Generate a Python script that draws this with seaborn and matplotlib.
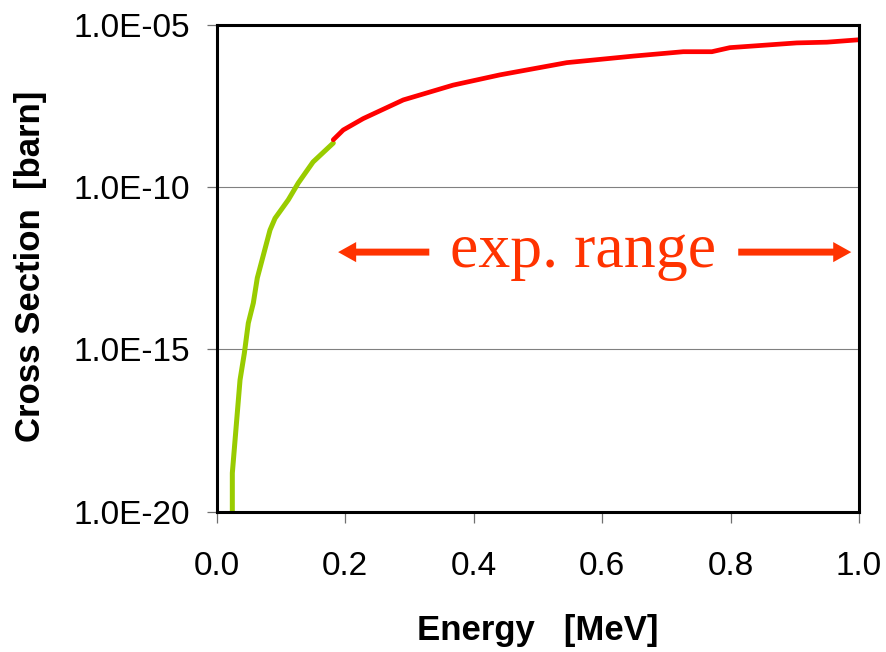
import numpy as np
import pandas as pd
import matplotlib
matplotlib.use("Agg")
import matplotlib.pyplot as plt
from matplotlib.ticker import FixedLocator, FuncFormatter, NullLocator
import seaborn as sns

# Calculated cross section, below the measured energy window (MeV, barn)
energy_low = [0.0243, 0.0243, 0.0363, 0.043, 0.0492, 0.0570, 0.0632, 0.0830,
              0.0908, 0.1115, 0.127, 0.150, 0.1815]
sigma_low = [1.0e-20, 1.55e-19, 1.15e-16, 7.6e-16, 6.5e-15, 2.7e-14, 1.6e-13,
             4.8e-12, 1.1e-11, 4.1e-11, 1.35e-10, 6.0e-10, 2.3e-09]

# Cross section across the experimentally accessible range
energy_high = [0.1815, 0.197, 0.228, 0.2905, 0.368, 0.441, 0.545, 0.649,
               0.7265, 0.771, 0.799, 0.903, 0.950, 1.0]
sigma_high = [2.9e-09, 5.8e-09, 1.3e-08, 4.9e-08, 1.4e-07, 2.9e-07, 6.9e-07,
              1.1e-06, 1.5e-06, 1.5e-06, 2.0e-06, 2.8e-06, 2.95e-06, 3.5e-06]

x_ticks = [0.0, 0.2, 0.4, 0.6, 0.8, 1.0]
y_ticks = [1e-20, 1e-15, 1e-10, 1e-5]

# Extent of the experimental window, marked with arrows
range_left = [0.331, 0.189]
range_right = [0.812, 0.988]
range_level = 1.0e-12
range_label = "exp. range"

low = pd.DataFrame({"Energy": energy_low, "Sigma": sigma_low})
high = pd.DataFrame({"Energy": energy_high, "Sigma": sigma_high})

sns.set_style("white")
plt.rcParams["font.family"] = ["Liberation Sans", "DejaVu Sans"]
plt.rcParams["text.color"] = "black"
plt.rcParams["axes.labelcolor"] = "black"
plt.rcParams["xtick.color"] = "black"
plt.rcParams["ytick.color"] = "black"

fig = plt.figure(figsize=(8.86, 6.52), dpi=100)
ax = fig.add_axes([0.2446, 0.2152, 0.7249, 0.7465])
ax.set_yscale("log")

sns.lineplot(data=low, x="Energy", y="Sigma", ax=ax, color="#99CC00",
             linewidth=3.6, estimator=None, sort=False, solid_capstyle="round")
sns.lineplot(data=high, x="Energy", y="Sigma", ax=ax, color="#FF0000",
             linewidth=3.4, estimator=None, sort=False, solid_capstyle="round")

ax.set_xlim(0, 1)
ax.set_ylim(1e-20, 1e-5)

ax.xaxis.set_major_locator(FixedLocator(x_ticks))
ax.xaxis.set_major_formatter(FuncFormatter(lambda v, p: f"{v:.1f}"))
ax.yaxis.set_major_locator(FixedLocator(y_ticks))
ax.yaxis.set_minor_locator(NullLocator())
ax.yaxis.set_major_formatter(
    FuncFormatter(lambda v, p: f"1.0E{int(round(np.log10(v))):03d}"))

ax.grid(False)
ax.yaxis.grid(True, color="#808080", linewidth=0.8)
ax.set_axisbelow(True)

for side in ["left", "right", "top", "bottom"]:
    ax.spines[side].set_visible(True)
    ax.spines[side].set_color("black")
    ax.spines[side].set_linewidth(2.2)

ax.tick_params(axis="both", which="major", direction="out", color="#707070",
               width=0.9, labelsize=24, labelcolor="black")
ax.tick_params(axis="y", length=7.5, pad=12)
ax.tick_params(axis="x", length=8, pad=20)
ax.tick_params(top=False, right=False, left=True, bottom=True)

ax.set_xlabel("Energy   [MeV]", fontsize=25, fontweight="bold", va="baseline",
              color="black")
ax.xaxis.set_label_coords(0.5, -0.2636)
ax.set_ylabel("Cross Section  [barn]", fontsize=25, fontweight="bold",
              va="baseline", color="black")
ax.yaxis.set_label_coords(-0.275, 0.505)

arrow_style = dict(arrowstyle="simple,head_length=13,head_width=14.5,tail_width=5",
                   mutation_scale=1, color="#FF3300", lw=0,
                   shrinkA=0, shrinkB=0)
ax.annotate("", xy=(range_left[1], range_level),
            xytext=(range_left[0], range_level), arrowprops=arrow_style)
ax.annotate("", xy=(range_right[1], range_level),
            xytext=(range_right[0], range_level), arrowprops=arrow_style)
ax.text(0.571, 3.4e-13, range_label, color="#FF3300", fontsize=46,
        family=["Liberation Serif", "DejaVu Serif"], ha="center",
        va="baseline")

fig.savefig("out.png", dpi=100)
